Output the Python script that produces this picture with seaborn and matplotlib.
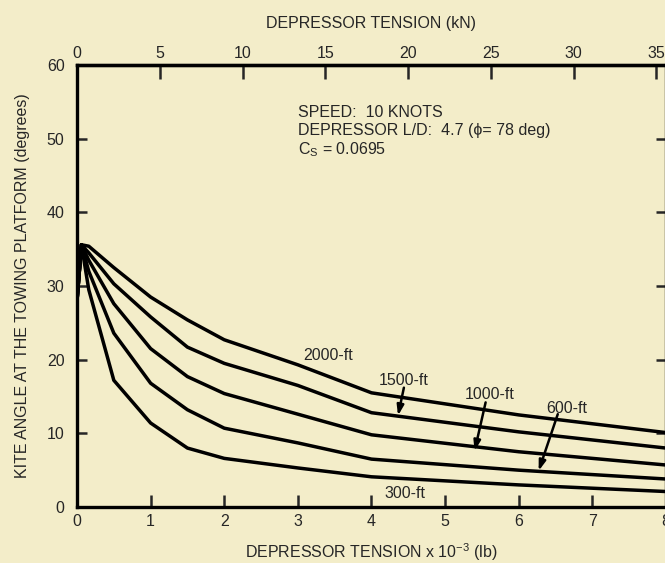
import numpy as np
import pandas as pd
import matplotlib
matplotlib.use("Agg")
import matplotlib.pyplot as plt
import seaborn as sns

# ---------------------------------------------
# Data
# ---------------------------------------------
tension_klb = [0.0, 0.06, 0.16, 0.5, 1.0, 1.5, 2.0, 3.0, 4.0, 6.0, 8.0]

angle_2000 = [28.0, 35.6, 35.4, 32.5, 28.5, 25.4, 22.7, 19.3, 15.5, 12.5, 10.1]
angle_1500 = [28.0, 35.6, 34.5, 30.3, 25.8, 21.7, 19.5, 16.5, 12.8, 10.2, 8.0]
angle_1000 = [28.0, 35.6, 33.5, 27.6, 21.5, 17.7, 15.4, 12.6, 9.8, 7.5, 5.7]
angle_600 = [28.0, 35.6, 32.0, 23.6, 16.8, 13.2, 10.7, 8.7, 6.5, 5.0, 3.8]
angle_300 = [28.0, 35.6, 29.5, 17.2, 11.4, 8.0, 6.6, 5.3, 4.1, 3.0, 2.1]

cable_lengths = ["2000-ft", "1500-ft", "1000-ft", "600-ft", "300-ft"]
series = [angle_2000, angle_1500, angle_1000, angle_600, angle_300]

kn_ticks = [0, 5, 10, 15, 20, 25, 30, 35]
klb_ticks = [0, 1, 2, 3, 4, 5, 6, 7, 8]
deg_ticks = [0, 10, 20, 30, 40, 50, 60]

KN_PER_KLB = 4.448

df = pd.concat(
    [pd.DataFrame({"tension": tension_klb, "angle": s, "length": name})
     for name, s in zip(cable_lengths, series)],
    ignore_index=True,
)

# ---------------------------------------------
# Style
# ---------------------------------------------
sns.set_style("ticks")
plt.rcParams["font.family"] = ["Liberation Sans", "DejaVu Sans"]
plt.rcParams["mathtext.fontset"] = "custom"
plt.rcParams["mathtext.rm"] = "Liberation Sans"

bg = "#f3edc9"
fs = 11.5
fig = plt.figure(figsize=(6.65, 5.63), dpi=100, facecolor=bg)
ax = fig.add_axes([77 / 665, 1 - 507 / 563, (666 - 77) / 665, (507 - 65) / 563])
ax.set_facecolor(bg)

sns.lineplot(
    data=df, x="tension", y="angle", hue="length",
    palette=["black"] * 5, linewidth=2.5, legend=False, ax=ax,
    sort=False, estimator=None,
)

ax.set_xlim(0, 8)
ax.set_ylim(0, 60)
ax.set_xticks(klb_ticks)
ax.set_yticks(deg_ticks)

for side in ["left", "bottom", "top", "right"]:
    ax.spines[side].set_linewidth(2.4)
    ax.spines[side].set_color("black")

ax.tick_params(axis="x", direction="in", length=9, width=1.8, labelsize=fs, pad=5)
ax.tick_params(axis="y", direction="in", length=7, width=1.8, labelsize=fs, pad=9,
               right=True)

ax.set_xlabel("DEPRESSOR TENSION x 10$^{\\mathregular{-3}}$ (lb)", fontsize=fs, labelpad=9)
ax.set_ylabel("KITE ANGLE AT THE TOWING PLATFORM (degrees)", fontsize=fs, labelpad=12)

# top axis in kN
top = ax.secondary_xaxis(
    "top",
    functions=(lambda x: x * KN_PER_KLB, lambda k: k / KN_PER_KLB),
)
top.set_xticks(kn_ticks)
top.tick_params(direction="in", length=10, width=1.8, labelsize=fs, pad=3)
top.spines["top"].set_linewidth(2.4)
top.set_xlabel("DEPRESSOR TENSION (kN)", fontsize=fs, labelpad=13)

# ---------------------------------------------
# Annotations
# ---------------------------------------------
ax.text(3.0, 53.6, "SPEED:  10 KNOTS", fontsize=fs, va="center")
ax.text(3.0, 51.1, "DEPRESSOR L/D:  4.7 (\u03d5= 78 deg)", fontsize=fs, va="center")
ax.text(3.0, 48.5, "C$_{\\mathregular{S}}$ = 0.0695", fontsize=fs, va="center")

ax.text(3.07, 20.6, "2000-ft", fontsize=fs, va="center")
ax.text(4.10, 17.2, "1500-ft", fontsize=fs, va="center")
ax.text(5.26, 15.3, "1000-ft", fontsize=fs, va="center")
ax.text(6.38, 13.4, "600-ft", fontsize=fs, va="center")
ax.text(4.18, 1.8, "300-ft", fontsize=fs, va="center")

arrows = [
    ((4.44, 16.2), (4.36, 12.4)),
    ((5.55, 14.2), (5.40, 7.6)),
    ((6.53, 12.6), (6.27, 4.9)),
]
for tail, tip in arrows:
    ax.annotate(
        "", xy=tip, xytext=tail,
        arrowprops=dict(arrowstyle="-|>,head_length=0.6,head_width=0.2",
                        color="black", lw=1.8, shrinkA=0, shrinkB=0),
    )

fig.savefig("out.png", dpi=100, facecolor=bg)
